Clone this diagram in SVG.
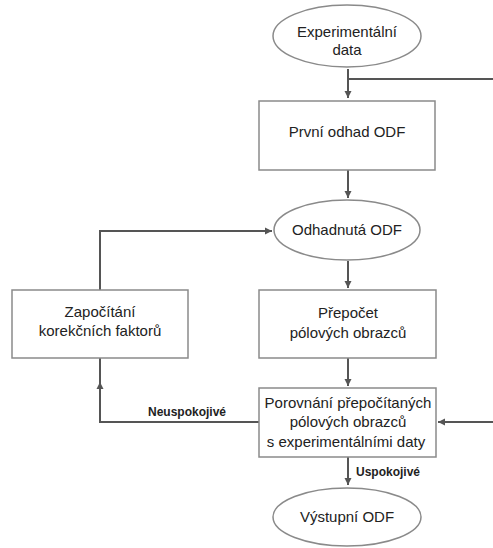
<svg xmlns="http://www.w3.org/2000/svg" width="493" height="548" viewBox="0 0 493 548">
<defs>
<marker id="arr" markerWidth="8" markerHeight="8" refX="7" refY="4" orient="auto" markerUnits="userSpaceOnUse">
<path d="M0,0.5 L7,4 L0,7.5 Z" fill="#555"/>
</marker>
<style>
.node{fill:#fff;stroke:#8a8a8a;stroke-width:1.5}
.t{font-family:"Liberation Sans",Arial,sans-serif;font-size:15px;fill:#222;text-anchor:middle}
.lbl{font-family:"Liberation Sans",Arial,sans-serif;font-size:12px;font-weight:bold;fill:#222}
.c{fill:none;stroke:#555;stroke-width:2}
</style>
</defs>
<rect width="493" height="548" fill="#fff"/>
<g id="connectors">
<path class="c" d="M348,69 V98" marker-end="url(#arr)"/>
<path class="c" d="M348,79 H493"/>
<path class="c" d="M348,170 V198" marker-end="url(#arr)"/>
<path class="c" d="M348,261 V288" marker-end="url(#arr)"/>
<path class="c" d="M348,358 V386" marker-end="url(#arr)"/>
<path class="c" d="M100,290 V231 H272" marker-end="url(#arr)"/>
<path class="c" d="M259,422 H100 V382" marker-end="url(#arr)"/>
<path class="c" d="M100,384 V358"/>
<path class="c" d="M493,422 H438" marker-end="url(#arr)"/>
<path class="c" d="M348,457 V485" marker-end="url(#arr)"/>
</g>
<g id="n-experimentalni-data">
<ellipse class="node" cx="347" cy="36" rx="74" ry="31"/>
<text class="t" x="347" y="37">Experimentální</text>
<text class="t" x="347" y="55">data</text>
</g>
<g id="n-prvni-odhad">
<rect class="node" x="259" y="101" width="176" height="69"/>
<text class="t" x="347" y="137">První odhad ODF</text>
</g>
<g id="n-odhadnuta">
<ellipse class="node" cx="347" cy="230" rx="73" ry="30"/>
<text class="t" x="347" y="235">Odhadnutá ODF</text>
</g>
<g id="n-zapocitani">
<rect class="node" x="12" y="290" width="176" height="68"/>
<text class="t" x="100" y="317">Započítání</text>
<text class="t" x="100" y="336">korekčních faktorů</text>
</g>
<g id="n-prepocet">
<rect class="node" x="259" y="290" width="177" height="68"/>
<text class="t" x="348" y="318">Přepočet</text>
<text class="t" x="348" y="338">pólových obrazců</text>
</g>
<g id="n-porovnani">
<rect class="node" x="259" y="388" width="177" height="69"/>
<text class="t" x="348" y="408">Porovnání přepočítaných</text>
<text class="t" x="348" y="427">pólových obrazců</text>
<text class="t" x="346" y="447">s experimentálními daty</text>
</g>
<g id="n-vystupni">
<ellipse class="node" cx="347" cy="517" rx="74" ry="29"/>
<text class="t" x="347" y="522">Výstupní ODF</text>
</g>
<g id="labels">
<text class="lbl" x="148" y="416">Neuspokojivé</text>
<text class="lbl" x="356" y="476">Uspokojivé</text>
</g>
</svg>
